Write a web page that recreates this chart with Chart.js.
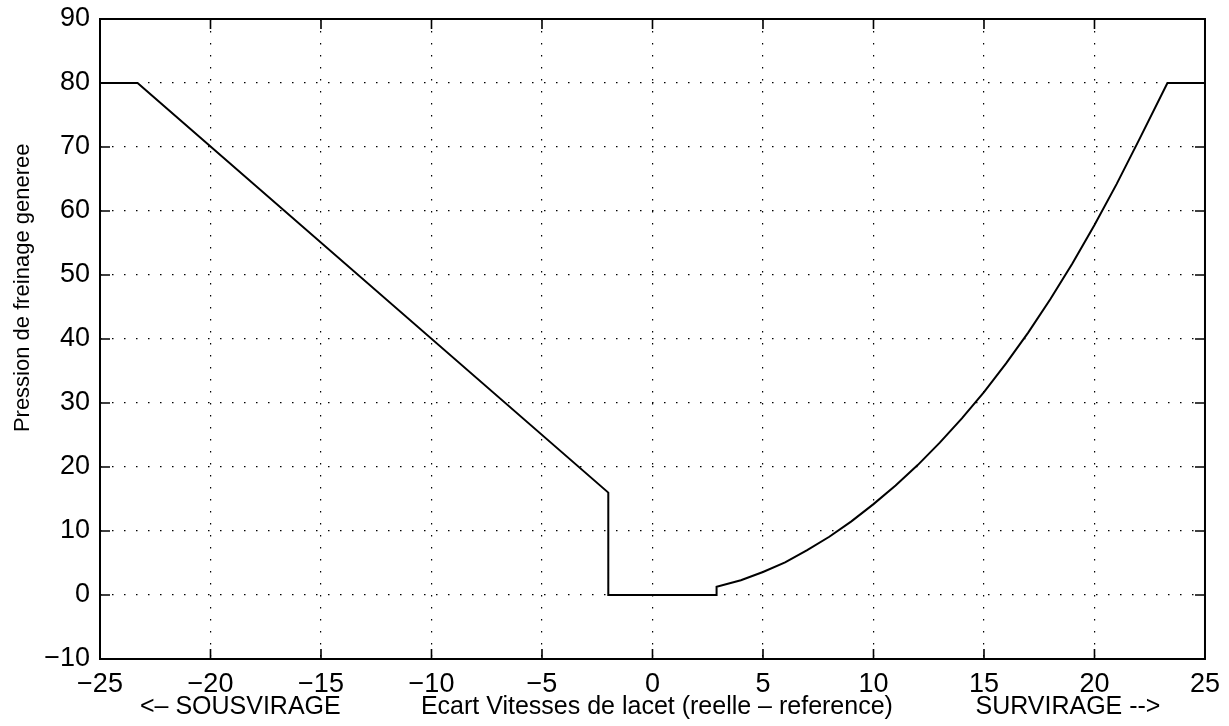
<!DOCTYPE html>
<html>
<head>
<meta charset="utf-8">
<script src="https://cdn.jsdelivr.net/npm/chart.js@4.4.0/dist/chart.umd.min.js"></script>
<style>
  html, body { margin: 0; padding: 0; background: #fff; }
</style>
</head>
<body>
<canvas id="chart" width="1229" height="726"></canvas>
<script>
// Brake pressure vs yaw-rate error
const xValues = [-25, -23.3, -2, -2, 2.9, 2.9, 4, 5, 6, 7, 8, 9, 10, 11, 12, 13, 14, 15, 16, 17, 18, 19, 20, 21, 22, 23.3, 25];
const yValues = [80, 80, 16, 0, 0, 1.3, 2.3, 3.6, 5.1, 7.0, 9.1, 11.5, 14.2, 17.1, 20.3, 23.8, 27.6, 31.7, 36.2, 41.0, 46.2, 51.8, 57.8, 64.2, 71.0, 80, 80];

const xRange = [-25, 25];
const yRange = [-10, 90];
const xStep = 5;
const yStep = 10;

const yTitle = 'Pression de freinage generee';
const xCaptions = ['<– SOUSVIRAGE', 'Ecart Vitesses de lacet (reelle – reference)', 'SURVIRAGE -->'];

const FONT = '"Liberation Sans", Arial, Helvetica, sans-serif';
Chart.defaults.font.family = FONT;
Chart.defaults.color = '#000';

const minus = v => String(v).replace('-', '\u2212');

// box, inward tick marks, y title and the three-part x caption
const framePlugin = {
  id: 'frame',
  afterDraw(chart) {
    const { ctx, chartArea: a, scales } = chart;
    ctx.save();
    ctx.strokeStyle = '#000';
    ctx.lineWidth = 2;
    ctx.strokeRect(a.left, a.top, a.right - a.left, a.bottom - a.top);

    ctx.beginPath();
    scales.x.ticks.forEach(t => {
      const px = scales.x.getPixelForValue(t.value);
      ctx.moveTo(px, a.bottom); ctx.lineTo(px, a.bottom - 10);
      ctx.moveTo(px, a.top); ctx.lineTo(px, a.top + 10);
    });
    scales.y.ticks.forEach(t => {
      const py = scales.y.getPixelForValue(t.value);
      ctx.moveTo(a.left, py); ctx.lineTo(a.left + 10, py);
      ctx.moveTo(a.right, py); ctx.lineTo(a.right - 10, py);
    });
    ctx.lineWidth = 1.6;
    ctx.stroke();

    ctx.fillStyle = '#000';
    ctx.textBaseline = 'middle';
    ctx.textAlign = 'center';

    // y title sits a bit above the middle of the axis
    ctx.save();
    ctx.font = '22px ' + FONT;
    ctx.translate(23, a.top + (a.bottom - a.top) * 0.42);
    ctx.rotate(-Math.PI / 2);
    ctx.fillText(yTitle, 0, 0);
    ctx.restore();

    ctx.font = '25px ' + FONT;
    const w = a.right - a.left;
    const y = 707;
    ctx.fillText(xCaptions[0], a.left + w * 0.127, y);
    ctx.fillText(xCaptions[1], a.left + w * 0.504, y);
    ctx.fillText(xCaptions[2], a.left + w * 0.876, y);
    ctx.restore();
  }
};

new Chart(document.getElementById('chart'), {
  type: 'line',
  data: {
    datasets: [{
      data: xValues.map((x, i) => ({ x: x, y: yValues[i] })),
      borderColor: '#000',
      borderWidth: 2,
      pointRadius: 0,
      tension: 0,
      fill: false
    }]
  },
  options: {
    responsive: false,
    animation: false,
    layout: { padding: { top: 19, right: 24, left: 0, bottom: 0 } },
    plugins: {
      legend: { display: false },
      tooltip: { enabled: false }
    },
    scales: {
      x: {
        type: 'linear',
        min: xRange[0],
        max: xRange[1],
        afterFit: scale => { scale.height = 67; },
        ticks: {
          stepSize: xStep,
          padding: 9,
          maxRotation: 0,
          font: { size: 27 },
          callback: v => minus(v)
        },
        grid: { color: '#000', lineWidth: 1.2, drawTicks: false },
        border: { display: false, dash: [1.5, 10.5] }
      },
      y: {
        min: yRange[0],
        max: yRange[1],
        afterFit: scale => {
          scale.width = 100;
          scale.paddingTop = 0;
          scale.paddingBottom = 0;
        },
        ticks: {
          stepSize: yStep,
          padding: 10,
          font: { size: 27 },
          callback: v => minus(v)
        },
        grid: { color: '#000', lineWidth: 1.2, drawTicks: false },
        border: { display: false, dash: [1.5, 10.5] }
      }
    }
  },
  plugins: [framePlugin]
});
</script>
</body>
</html>
